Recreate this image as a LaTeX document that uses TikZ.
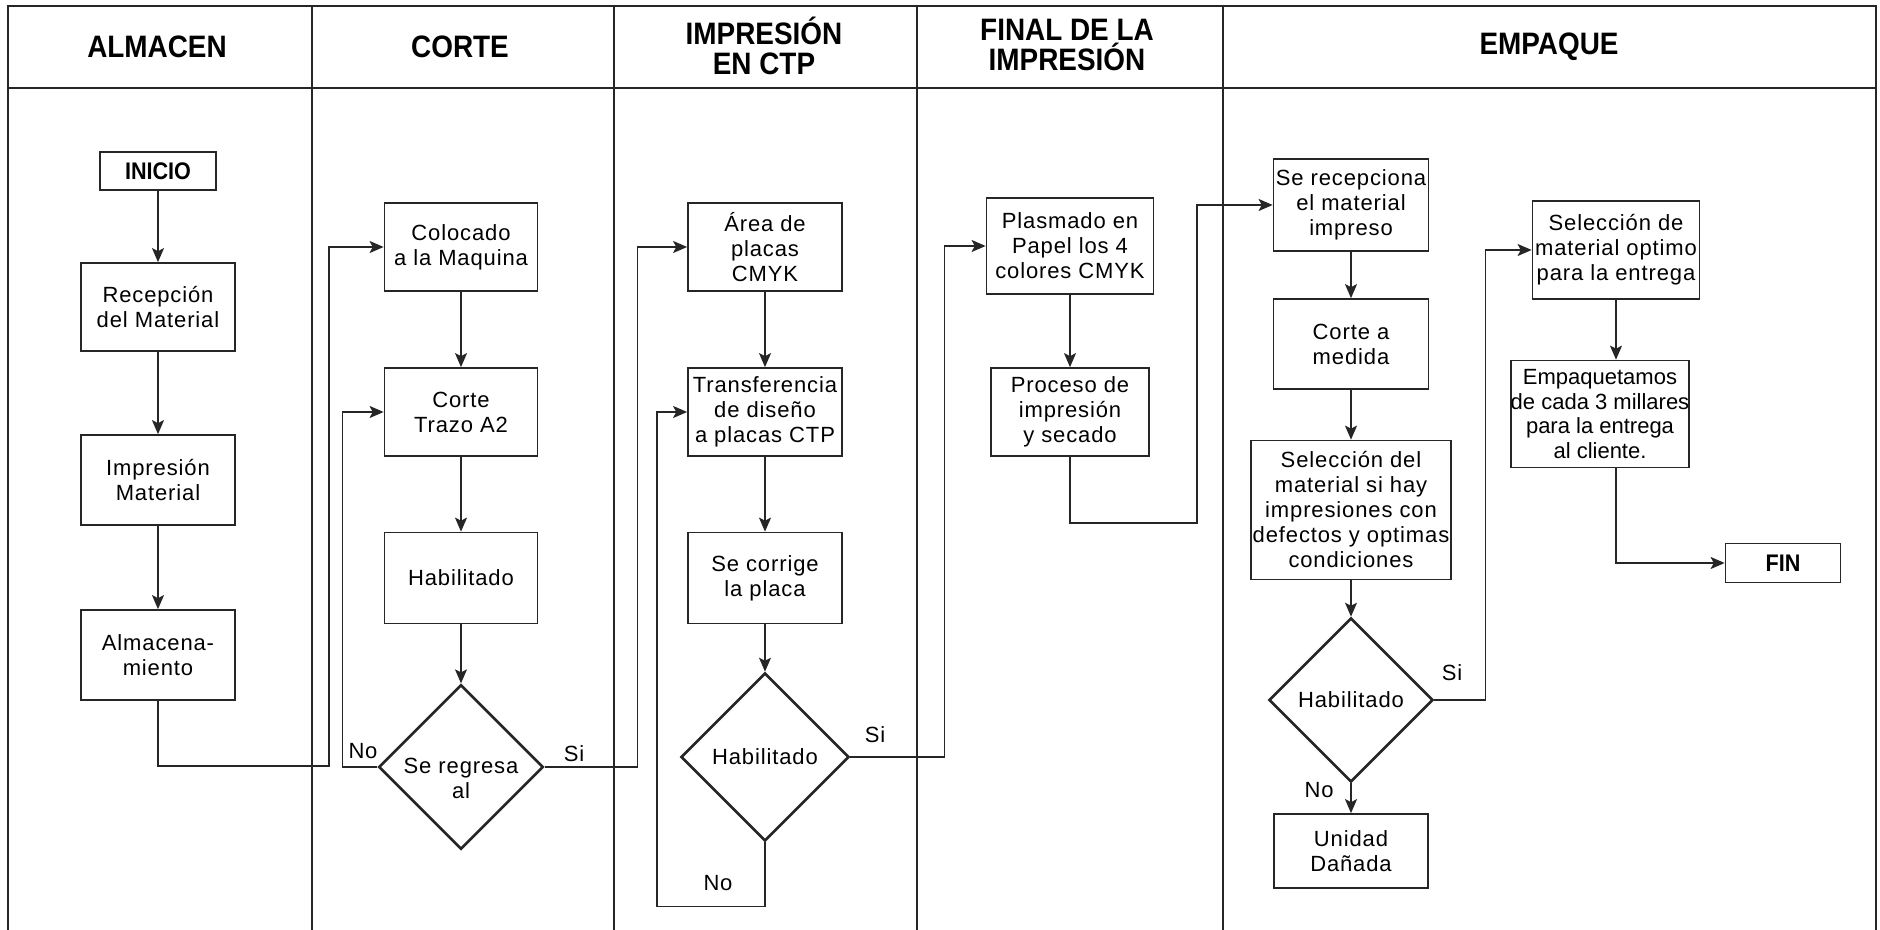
\documentclass[tikz,border=0pt]{standalone}
\usepackage{fontspec}
\setmainfont{Liberation Sans}[LetterSpace=4]
\newfontfamily\headfont[FakeStretch=0.9]{Liberation Sans}
\usetikzlibrary{shapes.geometric,arrows.meta}
\definecolor{ink}{HTML}{262626}

\begin{document}
\begin{tikzpicture}[x=0.5pt, y=-0.5pt,
    every node/.style={font=\fontsize{11}{12.5}\selectfont},
    proc/.style={draw=ink, line width=0.85pt, align=center, inner sep=1pt,
      minimum width=77pt, minimum height=44pt},
    decision/.style={diamond, draw=ink, line width=1.3pt, align=center,
      inner sep=0pt, minimum width=82pt, minimum height=82pt},
    term/.style={draw=ink, line width=0.85pt, font=\headfont\fontsize{12}{13}\selectfont\bfseries,
      minimum width=58pt, minimum height=19pt},
    lane/.style={font=\headfont\bfseries\fontsize{15.5}{15}\selectfont, align=center},
    flow/.style={draw=ink, line width=0.7pt,
      -{Stealth[length=7pt, width=6pt, inset=1.5pt]}},
    tag/.style={font=\fontsize{11}{12}\selectfont}]
  \useasboundingbox (0,0) rectangle (1880,930);

  % swimlanes
  \draw[ink, line width=0.9pt] (8,930) -- (8,6) -- (1876,6) -- (1876,930);
  \draw[ink, line width=0.9pt] (8,88) -- (1876,88);
  \foreach \x in {312,614,917,1223}
    \draw[ink, line width=0.9pt] (\x,6) -- (\x,930);

  \node[lane] (hAlm) at (157,47) {ALMACEN};
  \node[lane] (hCor) at (460,47) {CORTE};
  \node[lane] (hImp) at (764,46) {IMPRESIÓN\\EN CTP};
  \node[lane] (hFin) at (1067,45) {FINAL DE LA\\IMPRESIÓN};
  \node[lane] (hEmp) at (1549,47) {EMPAQUE};

  % almacen
  \node[term] (inicio) at (158,171) {INICIO};
  \node[proc] (recep) at (158,307) {Recepción\\del Material};
  \node[proc, minimum height=45pt] (impmat) at (158,480) {Impresión\\Material};
  \node[proc, minimum height=45pt] (almac) at (158,655) {Almacena-\\miento};

  % corte
  \node[proc, minimum width=76.5pt] (coloc) at (461,247) {Colocado\\a la Maquina};
  \node[proc, minimum width=76.5pt] (trazo) at (461,412) {Corte\\Trazo A2};
  \node[proc, minimum width=76.5pt, minimum height=45.5pt] (habil1) at (461,578) {Habilitado};
  \node[decision] (regresa) at (461,767)
    {\raisebox{-7pt}[\height][\depth]{\begin{tabular}{@{}c@{}}Se regresa\\al\end{tabular}}};

  % impresion en ctp
  \node[proc] (area) at (765,247) {Área de\\placas\\CMYK};
  \node[proc] (transf) at (765,412) {Transferencia\\de diseño\\a placas CTP};
  \node[proc, minimum height=45.5pt] (corrige) at (765,578) {Se corrige\\la placa};
  \node[decision, minimum width=84pt, minimum height=84pt] (habil2) at (765,757) {Habilitado};

  % final de la impresion
  \node[proc, minimum width=83.5pt, minimum height=48pt] (plasm) at (1070,246) {Plasmado en\\Papel los 4\\colores CMYK};
  \node[proc, minimum width=79pt] (proceso) at (1070,412) {Proceso de\\impresión\\y secado};

  % empaque
  \node[proc, minimum width=77.5pt, minimum height=46pt] (recepc) at (1351,205) {Se recepciona\\el material\\impreso};
  \node[proc, minimum width=77.5pt, minimum height=45pt] (cortem) at (1351,344) {Corte a\\medida};
  \node[proc, minimum width=100pt, minimum height=69.5pt] (selec) at (1351,510) {Selección del\\material si hay\\impresiones con\\defectos y optimas\\condiciones};
  \node[decision] (habil3) at (1351,700) {Habilitado};
  \node[proc, minimum height=37pt] (unidad) at (1351,851) {Unidad\\Dañada};
  \node[proc, minimum width=83.5pt, minimum height=49pt] (optimo) at (1616,250) {Selección de\\material optimo\\para la entrega};
  \node[proc, minimum width=82.5pt, minimum height=53.5pt, inner sep=0pt,
    font=\fontsize{11}{12.3}\selectfont\addfontfeature{LetterSpace=0}] (empaq) at (1600,414) {Empaquetamos\\de cada 3 millares\\para la entrega\\al cliente.};
  \node[term, minimum width=57.5pt, minimum height=19.5pt] (fin) at (1783,563) {FIN};

  \draw[flow] (inicio) -- (recep);
  \draw[flow] (recep) -- (impmat);
  \draw[flow] (impmat) -- (almac);
  \draw[flow] (almac.south) -- ++(0,65) -- ++(171,0) |- (coloc.west);

  \draw[flow] (coloc) -- (trazo);
  \draw[flow] (trazo) -- (habil1);
  \draw[flow] (habil1) -- (regresa);
  \draw[flow] (regresa.west) -- ++(-35,0) |- (trazo.west);
  \draw[flow] (regresa.east) -- ++(93,0) |- (area.west);
  \node[tag] (no1) at (363,751) {No};
  \node[tag] (si1) at (574,754) {Si};

  \draw[flow] (area) -- (transf);
  \draw[flow] (transf) -- (corrige);
  \draw[flow] (corrige) -- (habil2);
  \draw[flow] (habil2.east) -- ++(94,0) |- (plasm.west);
  \draw[flow] (habil2.south) -- ++(0,64) -- ++(-108,0) |- (transf.west);
  \node[tag] (si2) at (875,735) {Si};
  \node[tag] (no2) at (718,883) {No};

  \draw[flow] (plasm) -- (proceso);
  \draw[flow] (proceso.south) -- ++(0,66) -- ++(127,0) |- (recepc.west);

  \draw[flow] (recepc) -- (cortem);
  \draw[flow] (cortem) -- (selec);
  \draw[flow] (selec) -- (habil3);
  \draw[flow] (habil3.east) -- ++(51,0) |- (optimo.west);
  \draw[flow] (habil3) -- (unidad);
  \node[tag] (si3) at (1452,673) {Si};
  \node[tag] (no3) at (1319,790) {No};

  \draw[flow] (optimo.south) -- (optimo.south |- empaq.north);
  \draw[flow] (empaq.south -| optimo.south) |- (fin.west);
\end{tikzpicture}
\end{document}
